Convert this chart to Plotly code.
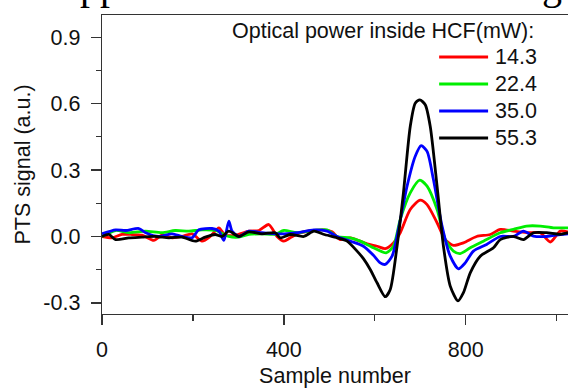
import plotly.graph_objects as go

# ---- data ----
red_x = [0, 22, 44, 66, 88, 114, 132, 154, 176, 198, 220, 238, 257, 271, 293, 323, 345, 367, 385, 400,
         414, 436, 466, 487, 506, 524, 546, 583, 605, 623, 641, 656, 678, 700, 715, 737, 755, 773, 795,
         824, 854, 876, 905, 934, 964, 986, 1008, 1025]
red_y = [0, -0.006, 0.009, 0.009, 0.006, -0.018, 0.006, -0.006, 0.0, 0.012, -0.021, 0.0, 0.039, 0.006,
         0.006, 0.024, 0.027, 0.054, 0.0, -0.021, -0.006, 0.017, 0.027, 0.03, 0.021, -0.014, -0.006,
         -0.033, -0.044, -0.055, -0.029, 0.017, 0.122, 0.164, 0.144, 0.062, -0.014, -0.04, -0.029, 0.0,
         0.009, 0.032, 0.024, 0.017, 0.017, -0.025, 0.024, 0.02]

green_x = [0, 30, 59, 96, 132, 161, 191, 220, 250, 279, 301, 323, 352, 381, 400, 429, 466, 495, 517, 546,
           568, 597, 625, 641, 656, 678, 699, 715, 737, 755, 773, 788, 810, 839, 876, 905, 934, 964, 993, 1025]
green_y = [0, 0.027, 0.017, 0.024, 0.017, 0.027, 0.024, 0.03, 0.027, 0, -0.003, 0.009, 0.012, 0.01, 0.027,
           0.017, 0.027, 0.03, 0.0, -0.006, -0.021, -0.051, -0.074, -0.044, 0.077, 0.197, 0.254, 0.227,
           0.122, -0.014, -0.066, -0.077, -0.051, -0.021, 0.017, 0.032, 0.047, 0.047, 0.039, 0.039]

blue_x = [0, 30, 52, 81, 96, 125, 154, 176, 198, 213, 242, 257, 268, 279, 286, 301, 323, 352, 381, 400, 429,
          466, 495, 517, 546, 575, 597, 612, 623, 638, 652, 671, 689, 702, 715, 729, 748, 766, 784, 799, 817,
          846, 876, 905, 927, 949, 978, 1008, 1025]
blue_y = [0.012, 0.03, 0.027, 0.036, 0.017, 0, 0.012, 0, -0.006, 0.03, 0.036, 0.024, -0.018, 0.069, 0.024,
          0.0, 0.024, 0.017, 0.012, 0.012, 0.017, 0.03, 0.024, 0, -0.021, -0.044, -0.085, -0.119, -0.126,
          -0.089, 0.032, 0.227, 0.362, 0.41, 0.384, 0.257, 0.047, -0.089, -0.146, -0.119, -0.066, -0.036,
          0.0, 0.0, 0.024, 0.002, 0.0, 0.009, 0.012]

black_x = [0, 15, 30, 59, 88, 118, 147, 176, 205, 227, 249, 264, 279, 301, 323, 352, 381, 392, 414, 444, 466,
           487, 517, 539, 561, 575, 590, 605, 623, 634, 649, 663, 678, 689, 699, 711, 722, 737, 751, 766, 783,
           795, 810, 832, 861, 876, 905, 927, 949, 978, 1008, 1025]
black_y = [0, 0.009, -0.014, -0.006, -0.003, 0, -0.006, -0.003, -0.021, -0.003, 0.009, 0.0, 0.024, 0.0, 0.021,
           0.012, 0.017, -0.006, 0.009, 0, 0.024, 0.01, -0.006, -0.021, -0.066, -0.10, -0.149, -0.209, -0.272,
           -0.239, -0.044, 0.197, 0.497, 0.602, 0.617, 0.595, 0.497, 0.227, -0.044, -0.224, -0.291, -0.254,
           -0.164, -0.089, -0.051, -0.014, 0.0, -0.014, 0.017, 0.017, 0.01, 0.017]

series_names = ["14.3", "22.4", "35.0", "55.3"]
series_colors = ["#ff0000", "#00ee00", "#0000ff", "#000000"]
legend_title = "Optical power inside HCF(mW):"
x_ticks = [0, 400, 800]
y_ticks = [-0.3, 0.0, 0.3, 0.6, 0.9]
y_tick_labels = ["-0.3", "0.0", "0.3", "0.6", "0.9"]

FONT = "Liberation Sans, Arial, sans-serif"
FS = 21.5

fig = go.Figure()
for xs, ys, name, col in zip([red_x, green_x, blue_x, black_x], [red_y, green_y, blue_y, black_y],
                             series_names, series_colors):
    fig.add_trace(go.Scatter(x=xs, y=ys, mode="lines", name=name,
                             line=dict(color=col, width=2.8, shape="spline", smoothing=0.7),
                             showlegend=False, hoverinfo="skip"))

W, H = 568, 388
ml, mt, mb = 101.5, 15, 74
pw, ph = W - ml, H - mt - mb

def px2paper(px, py):
    return (px - ml) / pw, 1 - (py - mt) / ph

# custom legend (title right-aligned, swatches to the right)
tx, ty = px2paper(536, 31)
fig.add_annotation(x=tx, y=ty, xref="paper", yref="paper", text=legend_title, showarrow=False,
                   xanchor="right", yanchor="middle", font=dict(size=FS, color="#111", family=FONT))
rows_y = [57, 84, 111, 138]
for name, col, ry in zip(series_names, series_colors, rows_y):
    x0, y0 = px2paper(439, ry)
    x1, _ = px2paper(488, ry)
    fig.add_shape(type="line", xref="paper", yref="paper", x0=x0, x1=x1, y0=y0, y1=y0,
                  line=dict(color=col, width=2.8))
    lx, ly = px2paper(493, ry)
    fig.add_annotation(x=lx, y=ly, xref="paper", yref="paper", text=name, showarrow=False,
                       xanchor="left", yanchor="middle", font=dict(size=FS, color="#111", family=FONT))

# fragments of caption text cut off at the top of the image
for txt, cx in [("pp", 99), ("g", 552)]:
    ax, ay = px2paper(cx, 10)
    fig.add_annotation(x=ax, y=ay, xref="paper", yref="paper", text=txt, showarrow=False,
                       xanchor="center", yanchor="bottom",
                       font=dict(size=40, color="#000", family="Liberation Serif, Times New Roman, serif"))

axis_common = dict(showgrid=False, zeroline=False, showline=True, linecolor="#333", linewidth=1.3,
                   ticks="outside", ticklen=10, tickwidth=1.3, tickcolor="#333",
                   tickfont=dict(size=FS, color="#111", family=FONT))

fig.update_xaxes(range=[0, 1025], tickvals=x_ticks, mirror=True, ticklabelstandoff=6,
                 minor=dict(dtick=200, tick0=0, ticks="outside", ticklen=6, tickwidth=1.3, tickcolor="#333"),
                 title=dict(text="Sample number", font=dict(size=FS, color="#111", family=FONT), standoff=7),
                 **axis_common)
fig.update_yaxes(range=[-0.35, 1.0], tickvals=y_ticks, ticktext=y_tick_labels, ticklabelstandoff=6,
                 minor=dict(dtick=0.15, tick0=0, ticks="outside", ticklen=5, tickwidth=1.3, tickcolor="#333"),
                 title=dict(text="PTS signal (a.u.)", font=dict(size=FS, color="#111", family=FONT), standoff=6),
                 **axis_common)

fig.update_layout(width=W, height=H, margin=dict(l=ml, r=0, t=mt, b=mb, autoexpand=False),
                  plot_bgcolor="white", paper_bgcolor="white", font=dict(family=FONT), hovermode=False)

fig.write_html("out.html", config={"displayModeBar": False, "staticPlot": True},
               post_script="document.body.style.margin='0';document.body.style.overflow='hidden';")
